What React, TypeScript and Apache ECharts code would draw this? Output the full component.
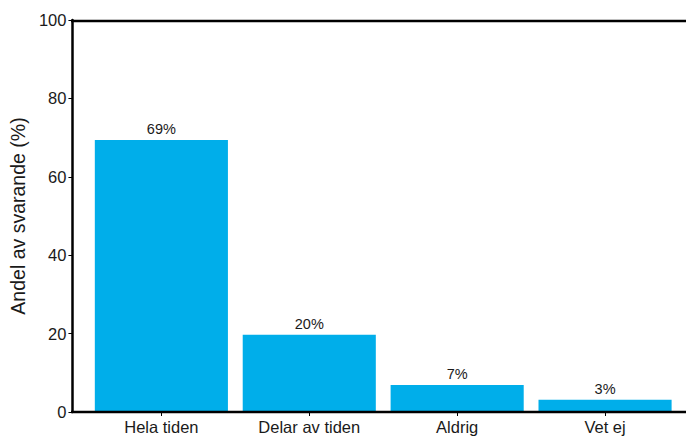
import React, { useEffect, useRef } from "react";
import * as echarts from "echarts";

const categories = ["Hela tiden", "Delar av tiden", "Aldrig", "Vet ej"];
const values = [69.4, 19.7, 6.9, 3.1];
const labels = ["69%", "20%", "7%", "3%"];
const yTicks = [0, 20, 40, 60, 80, 100];

export default function App() {
  const ref = useRef<HTMLDivElement>(null);
  useEffect(() => {
    if (!ref.current) return;
    const chart = echarts.init(ref.current, undefined, { renderer: "svg" });
    const font = "'Liberation Sans', Arial, sans-serif";
    chart.setOption({
      animation: false,
      grid: { left: 86, right: 7, top: 20, bottom: 25 },
      graphic: [
        { type: "line", shape: { x1: 71, y1: 21, x2: 686, y2: 21 }, style: { stroke: "#000", lineWidth: 2.5 }, z: 10 },
        { type: "line", shape: { x1: 71, y1: 412, x2: 686, y2: 412 }, style: { stroke: "#000", lineWidth: 2.5 }, z: 10 },
      ],
      xAxis: {
        type: "category",
        data: categories,
        axisLine: { show: false },
        axisTick: { show: true, alignWithLabel: true, length: 4, lineStyle: { color: "#000", width: 1 } },
        axisLabel: { color: "#1a1a1a", fontSize: 16.5, fontFamily: font, margin: 6 },
      },
      yAxis: {
        type: "value",
        min: 0,
        max: 100,
        interval: 20,
        offset: 15,
        name: "Andel av svarande (%)",
        nameLocation: "middle",
        nameGap: 44,
        nameTextStyle: { color: "#1a1a1a", fontSize: 19.5, fontFamily: font },
        axisLine: { show: true, lineStyle: { color: "#000", width: 2.5 } },
        axisTick: { show: true, length: 4, lineStyle: { color: "#000", width: 1 } },
        axisLabel: {
          color: "#1a1a1a",
          fontSize: 16.5,
          fontFamily: font,
          margin: 6,
          formatter: (v: number) => (yTicks.includes(v) ? String(v) : ""),
        },
        splitLine: { show: false },
      },
      series: [
        {
          type: "bar",
          data: values,
          barCategoryGap: "10%",
          itemStyle: { color: "#00AEEA" },
          label: {
            show: true,
            position: "top",
            distance: 3,
            color: "#1a1a1a",
            fontSize: 14.5,
            fontFamily: font,
            formatter: (p: any) => labels[p.dataIndex],
          },
        },
      ],
    });
    return () => chart.dispose();
  }, []);
  return <div ref={ref} style={{ width: 686, height: 437, position: "absolute", left: 0, top: 0 }} />;
}
